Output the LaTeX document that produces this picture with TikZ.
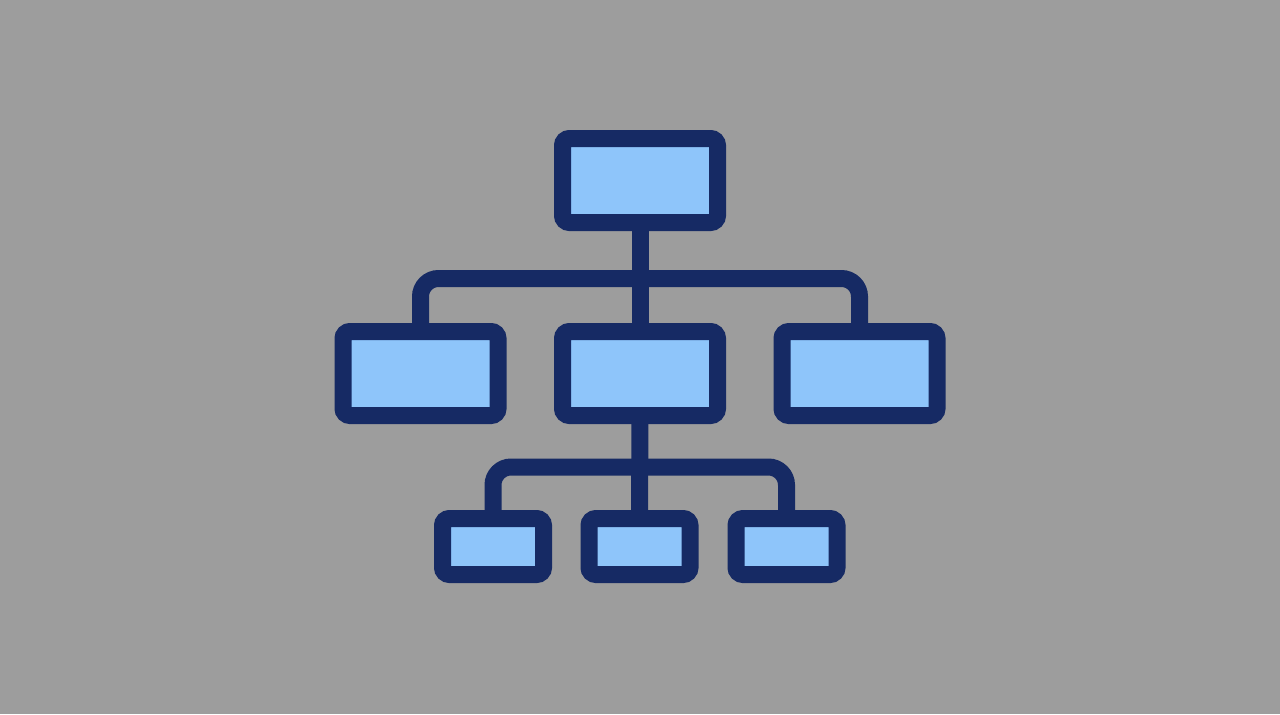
\documentclass[tikz,border=0pt]{standalone}
\begin{document}
\definecolor{bggray}{RGB}{157,157,157}
\definecolor{navy}{RGB}{22,42,100}
\definecolor{lightblue}{RGB}{142,197,250}
\begin{tikzpicture}[x=0.5pt,y=-0.5pt,
  box/.style={draw=navy,fill=lightblue,line width=8.5pt,rounded corners=3.5pt,inner sep=0pt,outer sep=0pt},
  bigbox/.style={box,minimum width=77.5pt,minimum height=42pt},
  smallbox/.style={box,minimum width=50.5pt,minimum height=28pt},
  conn/.style={draw=navy,line width=8.5pt,shorten <=-3pt,shorten >=-3pt}]
\fill[bggray] (0,0) rectangle (1280,714);
\useasboundingbox (0,0) rectangle (1280,714);
\node[bigbox] (top) at (640,180.5) {};
\node[bigbox] (m1) at (420.5,373.5) {};
\node[bigbox] (m2) at (640,373.5) {};
\node[bigbox] (m3) at (859.5,373.5) {};
\node[smallbox] (s1) at (493,546.5) {};
\node[smallbox] (s2) at (639.5,546.5) {};
\node[smallbox] (s3) at (786.5,546.5) {};
\coordinate (hubA) at (640,278.5);
\coordinate (hubB) at (640,467);
\draw[conn] (top.south) -- (m2.north);
\draw[conn,rounded corners=9pt] (m1.north) |- (hubA) -| (m3.north);
\draw[conn] (m2.south) -- (s2.north);
\draw[conn,rounded corners=9pt] (s1.north) |- (hubB) -| (s3.north);
\end{tikzpicture}
\end{document}
